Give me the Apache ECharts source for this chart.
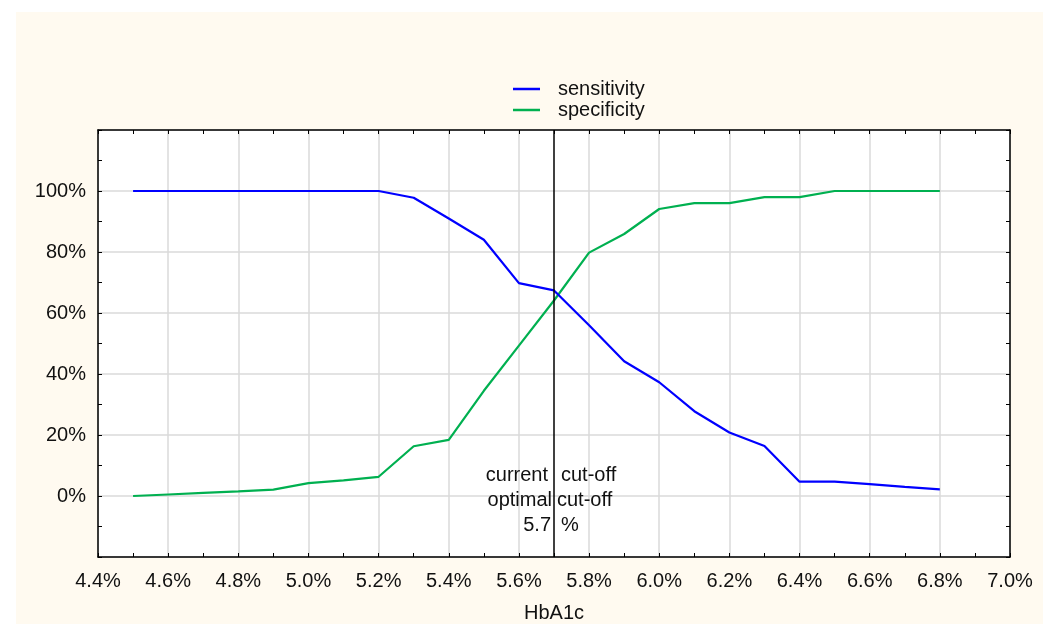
<!DOCTYPE html>
<html>
<head>
<meta charset="utf-8">
<script src="https://cdn.jsdelivr.net/npm/echarts@6/dist/echarts.min.js"></script>
<style>
  html, body { margin: 0; padding: 0; background: #ffffff; }
  #panel { position: absolute; left: 16px; top: 12px; width: 1027px; height: 612px; background: #fffaf0; }
  #chart { position: absolute; left: 0; top: 0; width: 1053px; height: 624px; }
</style>
</head>
<body>
<div id="panel"></div>
<div id="chart"></div>
<script>
// HbA1c thresholds (%) and the sensitivity / specificity at each threshold (%)
const hba1c       = [4.5, 4.6, 4.7, 4.8, 4.9, 5.0, 5.1, 5.2, 5.3, 5.4, 5.5, 5.6, 5.7, 5.8, 5.9, 6.0, 6.1, 6.2, 6.3, 6.4, 6.5, 6.6, 6.7, 6.8];
const sensitivity = [100, 100, 100, 100, 100, 100, 100, 100, 97.8, 91, 84, 69.8, 67.4, 56, 44.2, 37.3, 27.8, 20.8, 16.4, 4.7, 4.7, 3.9, 3.0, 2.2];
const specificity = [0, 0.5, 1.0, 1.5, 2.1, 4.2, 5.1, 6.3, 16.3, 18.4, 34.5, 49.3, 64.1, 79.8, 85.9, 94.1, 96, 96, 98, 98, 100, 100, 100, 100];

// cut-off marker
const cutoff = 5.7;
const cutoffLeft  = ['current', 'optimal', cutoff.toFixed(1)];
const cutoffRight = ['cut-off', 'cut-off', '%'];

// axis ranges
const xRange = [4.4, 7.0];
const xStep = 0.2;
const yRange = [-20, 120];
const yStep = 20;
const yLabelled = [0, 20, 40, 60, 80, 100];

const FONT = 'Liberation Sans, Arial, sans-serif';
const FS = 20;

const sensPts = hba1c.map((x, i) => [x, sensitivity[i]]);
const specPts = hba1c.map((x, i) => [x, specificity[i]]);

const tickStyle = { inside: true, length: 4, lineStyle: { color: '#000', width: 1 } };
const minorStyle = { show: true, splitNumber: 2, length: 4, lineStyle: { color: '#000', width: 1 } };
const gridLine = { show: true, lineStyle: { color: '#dadada', width: 1.5 } };
const axisLine = { show: true, onZero: false, lineStyle: { color: '#000', width: 1.5 } };

const chart = echarts.init(document.getElementById('chart'), null, { renderer: 'canvas' });

chart.setOption({
  backgroundColor: 'transparent',
  animation: false,
  textStyle: { fontFamily: FONT },
  grid: {
    left: 98, right: 43, top: 130, bottom: 67,
    outerBoundsMode: 'none', containLabel: false,
    show: true, backgroundColor: '#ffffff', borderWidth: 0
  },
  legend: {
    orient: 'vertical',
    left: 513, top: 79,
    padding: 0,
    itemGap: 1,
    itemWidth: 27, itemHeight: 2.5,
    icon: 'rect',
    textStyle: { fontFamily: FONT, fontSize: FS, color: '#111', padding: [0, 0, 0, 13] },
    data: ['sensitivity', 'specificity']
  },
  xAxis: [
    {
      type: 'value', min: xRange[0], max: xRange[1], interval: xStep,
      position: 'bottom',
      name: 'HbA1c', nameLocation: 'middle', nameGap: 46,
      nameTextStyle: { fontFamily: FONT, fontSize: FS, color: '#111' },
      axisLine: axisLine,
      axisTick: tickStyle,
      minorTick: minorStyle,
      splitLine: gridLine,
      axisLabel: { fontFamily: FONT, fontSize: FS, color: '#111', margin: 14,
        formatter: v => v.toFixed(1) + '%' }
    },
    {
      type: 'value', min: xRange[0], max: xRange[1], interval: xStep,
      position: 'top',
      axisLine: axisLine,
      axisTick: tickStyle,
      minorTick: minorStyle,
      splitLine: { show: false },
      axisLabel: { show: false }
    }
  ],
  yAxis: [
    {
      type: 'value', min: yRange[0], max: yRange[1], interval: yStep,
      position: 'left',
      axisLine: axisLine,
      axisTick: tickStyle,
      minorTick: minorStyle,
      splitLine: gridLine,
      axisLabel: { fontFamily: FONT, fontSize: FS, color: '#111', margin: 12,
        formatter: v => yLabelled.indexOf(v) >= 0 ? v + '%' : '' }
    },
    {
      type: 'value', min: yRange[0], max: yRange[1], interval: yStep,
      position: 'right',
      axisLine: axisLine,
      axisTick: tickStyle,
      minorTick: minorStyle,
      splitLine: { show: false },
      axisLabel: { show: false }
    }
  ],
  series: [
    {
      name: 'sensitivity', type: 'line', xAxisIndex: 0, yAxisIndex: 0,
      data: sensPts, symbol: 'none', color: '#0000ff',
      lineStyle: { width: 2.2, color: '#0000ff' },
      z: 3,
      markLine: {
        silent: true, symbol: 'none', animation: false,
        label: { show: false },
        lineStyle: { color: '#000', width: 1.5, type: 'solid' },
        data: [{ xAxis: cutoff }]
      }
    },
    {
      name: 'specificity', type: 'line', xAxisIndex: 0, yAxisIndex: 0,
      data: specPts, symbol: 'none', color: '#00b050',
      lineStyle: { width: 2.2, color: '#00b050' },
      z: 2
    }
  ]
});

// cut-off caption, split either side of the marker line
const lx = chart.convertToPixel({ xAxisIndex: 0 }, cutoff);
const y0 = chart.convertToPixel({ yAxisIndex: 0 }, 0);
const rowOffset = [-21, 4, 29];
const leftGap = [6, 2, 3];
const rightGap = [7, 3, 7];
const captions = [];
cutoffLeft.forEach((t, i) => {
  captions.push({
    type: 'text', z: 10,
    style: { text: t, x: lx - leftGap[i], y: y0 + rowOffset[i], align: 'right', verticalAlign: 'middle',
      font: FS + 'px ' + FONT, fill: '#111' }
  });
  captions.push({
    type: 'text', z: 10,
    style: { text: cutoffRight[i], x: lx + rightGap[i], y: y0 + rowOffset[i], align: 'left', verticalAlign: 'middle',
      font: FS + 'px ' + FONT, fill: '#111' }
  });
});
chart.setOption({ graphic: captions });
</script>
</body>
</html>
